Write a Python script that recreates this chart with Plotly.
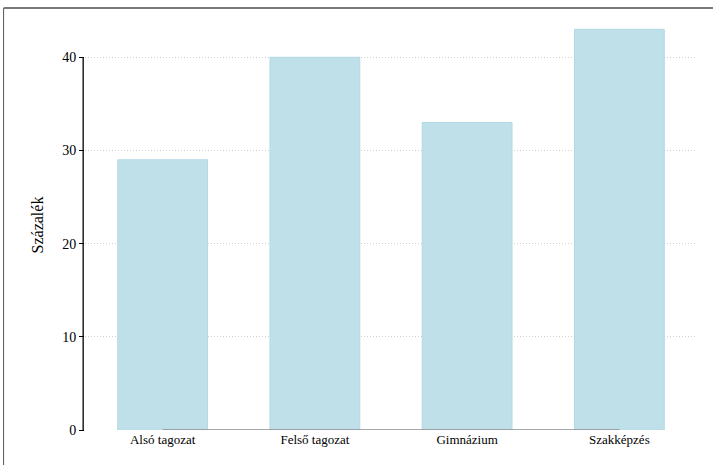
import plotly.graph_objects as go

categories = ["Alsó tagozat", "Felső tagozat", "Gimnázium", "Szakképzés"]
values = [29, 40, 33, 43]
y_ticks = [0, 10, 20, 30, 40]

serif = "Liberation Serif, Times New Roman, serif"

fig = go.Figure(go.Bar(
    x=list(range(len(categories))), y=values,
    width=0.59,
    marker=dict(color="#bfe0e9", line=dict(color="#b2d9e5", width=1)),
    hoverinfo="skip",
))

fig.update_layout(
    width=713, height=465,
    margin=dict(l=85, r=16, t=20, b=35),
    paper_bgcolor="white", plot_bgcolor="white",
    showlegend=False,
    font=dict(family=serif, size=13, color="black"),
    xaxis=dict(
        range=[-0.51, 3.51],
        tickmode="array", tickvals=list(range(len(categories))), ticktext=categories,
        showgrid=False, zeroline=False, showline=False, ticks="",
        tickfont=dict(family=serif, size=13),
    ),
    yaxis=dict(
        range=[0, 44],
        tickmode="array", tickvals=y_ticks,
        showgrid=True, gridcolor="#cfcfcf", griddash="1px,2px", gridwidth=1,
        zeroline=False, showline=False,
        ticks="outside", ticklen=5, tickcolor="black", tickwidth=1,
        tickfont=dict(family=serif, size=14),
        title=dict(text="Százalék", font=dict(family=serif, size=16), standoff=14),
    ),
    shapes=[
        # y-axis line spanning tick range
        dict(type="line", xref="paper", yref="y", x0=-0.003, x1=-0.003,
             y0=y_ticks[0], y1=y_ticks[-1], line=dict(color="black", width=1.3)),
        # x-axis line between first and last categories
        dict(type="line", xref="x", yref="y", x0=0, x1=len(categories) - 1,
             y0=0, y1=0, line=dict(color="#8c8c8c", width=1.5)),
        # outer frame: top and left
        dict(type="line", xref="paper", yref="paper", x0=-0.133, x1=1.03,
             y0=1.029, y1=1.029, line=dict(color="#7a7a7a", width=2)),
        dict(type="line", xref="paper", yref="paper", x0=-0.133, x1=-0.133,
             y0=1.029, y1=-0.09, line=dict(color="#555555", width=1)),
    ],
)

fig.write_html("out.html", config={"displayModeBar": False},
               post_script="document.body.style.margin='0';")
